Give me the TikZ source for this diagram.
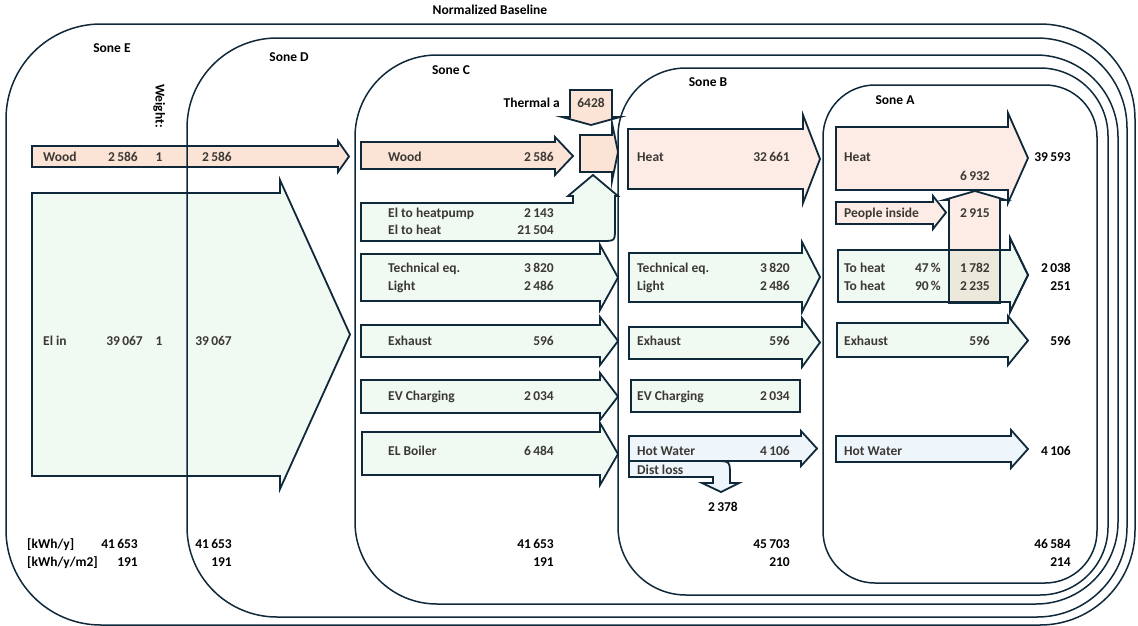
\documentclass[tikz,border=0pt]{standalone}
\usepackage{fontspec}
\setmainfont{Carlito}
\definecolor{edge}{HTML}{10293A}
\definecolor{woodfill}{HTML}{FBE3D6}
\definecolor{heatfill}{HTML}{FCECE5}
\definecolor{elfill}{HTML}{F0F9F2}
\definecolor{waterfill}{HTML}{EEF6FB}
\definecolor{mixfill}{HTML}{ECE9DC}
\definecolor{ink}{HTML}{3C3935}
% right-pointing flow arrow: style, start x, head back x, tip x, body top, body bottom, head top, head bottom
\newcommand\flowarrow[8]{%
  \path[#1] (#2,#5) -- (#3,#5) -- (#3,#7) -- (#4,{(#7+#8)/2}) -- (#3,#8) -- (#3,#6) -- (#2,#6) -- cycle;}
\begin{document}
\begin{tikzpicture}[x=1pt,y=-1pt,
  font=\fontsize{13.5}{15}\selectfont\bfseries,
  flow/.style={draw=edge, line width=1.8pt, line join=miter},
  woodarrow/.style={flow, fill=woodfill},
  heatarrow/.style={flow, fill=heatfill},
  elarrow/.style={flow, fill=elfill},
  waterarrow/.style={flow, fill=waterfill},
  zone/.style={draw=edge, line width=1.5pt},
  txt/.style={inner sep=0pt, text height=8.6pt, text depth=0pt, text=ink},
  lbl/.style={txt, anchor=west},
  num/.style={txt, anchor=east},
  cnum/.style={txt, anchor=center},
  outnum/.style={num, text=black},
  outc/.style={cnum, text=black},
  head/.style={cnum, text=black}]
\useasboundingbox (0,0) rectangle (1138,625);
\clip (0,0) rectangle (1138,625);

% ---------- Sone E ----------
\flowarrow{woodarrow}{32}{338}{349}{146}{167}{141}{172}
\flowarrow{elarrow}{32}{280}{350}{193}{476}{180}{489}

% ---------- Sone C ----------
\flowarrow{woodarrow}{361}{555}{573}{142}{169}{137}{175}
% electricity bending up into the heat merge
\path[elarrow] (361,241) -- (361,203) -- (573,203) -- (573,196) -- (568,196) -- (593,175)
  -- (618,196) -- (615,196) -- (615,228) .. controls (615,241) .. (602,241) -- cycle;
% thermal gain from above
\path[woodarrow] (570,90) -- (612,90) -- (612,117) -- (620,117) -- (591,125) -- (562,117) -- (570,117) -- cycle;
% merge box
\flowarrow{woodarrow}{580}{612}{618}{135}{172}{123}{181}
\flowarrow{elarrow}{361}{600}{618}{254}{301}{245}{310}
\flowarrow{elarrow}{361}{600}{618}{325}{357}{317}{365}
\flowarrow{elarrow}{361}{600}{618}{380}{413}{373}{420}
\flowarrow{elarrow}{362}{600}{618}{432}{475}{423}{485}

% ---------- Sone B ----------
\flowarrow{heatarrow}{628}{803}{820}{129}{189}{115}{203}
\flowarrow{elarrow}{629}{802}{820}{253}{302}{242}{312}
\flowarrow{elarrow}{629}{802}{820}{327}{359}{318}{367}
\path[elarrow] (631,380) rectangle (800,412);
\flowarrow{waterarrow}{629}{801}{817}{436}{461}{431}{466}
% distribution loss bending down
\path[waterarrow] (629,461) -- (715,461) .. controls (730,461) .. (730,476) -- (730,483) -- (739,483)
  -- (721,492) -- (702,483) -- (713,483) -- (713,477) -- (629,477) -- cycle;

% ---------- Sone A ----------
\flowarrow{heatarrow}{836}{1008}{1028}{127}{190}{113}{203}
\flowarrow{heatarrow}{836}{933}{946}{202}{224}{196}{229}
\flowarrow{elarrow}{838}{1010}{1028}{250}{302}{238}{312}
\flowarrow{elarrow}{837}{1008}{1028}{323}{357}{316}{365}
\flowarrow{waterarrow}{836}{1011}{1028}{436}{462}{430}{468}
% internal gains rising into the heat arrow
\fill[heatfill] (949,303) -- (949,200) -- (944,200) -- (975,191) -- (1006,200) -- (1000,200) -- (1000,303) -- cycle;
\fill[mixfill] (949,250) rectangle (1000,302);
\flowarrow{flow}{838}{1010}{1028}{250}{302}{238}{312}
\draw[flow] (949,303) -- (949,200) -- (944,200) -- (975,191) -- (1006,200) -- (1000,200) -- (1000,303) -- cycle;

% ---------- zone outlines ----------
\draw[zone, rounded corners=95] (6,24) rectangle (1135,625);
\draw[zone, rounded corners=90] (187,38) rectangle (1127,617);
\draw[zone, rounded corners=82] (355,55) rectangle (1118,604);
\draw[zone, rounded corners=68] (618,68) rectangle (1108,595);
\draw[zone, rounded corners=52] (823,85) rectangle (1097,583);

% ---------- headings ----------
\node[head] (title) at (490,10) {Normalized Baseline};
\node[head] (zE) at (112,48) {Sone E};
\node[head] (zD) at (289,57) {Sone D};
\node[head] (zC) at (451,70) {Sone C};
\node[head] (zB) at (708,82) {Sone B};
\node[head] (zA) at (895,100) {Sone A};
\node[head, rotate=-90] (weight) at (160,106) {Weight:};

% ---------- Sone E texts ----------
\node[lbl] (eWood) at (43,157) {Wood};
\node[num] (eWoodV) at (138,157) {2\,586};
\node[cnum] (eWoodW) at (159,157) {1};
\node[num] (dWoodV) at (232,157) {2\,586};
\node[lbl] (eEl) at (43,341) {El in};
\node[num] (eElV) at (143,341) {39\,067};
\node[cnum] (eElW) at (159,341) {1};
\node[num] (dElV) at (232,341) {39\,067};

% ---------- Sone C texts ----------
\node[num, text=black] (thermL) at (560,103) {Thermal a};
\node[cnum] (thermV) at (591,103) {6428};
\node[lbl] (cWood) at (388,157) {Wood};
\node[num] (cWoodV) at (554,157) {2\,586};
\node[lbl] (cHp) at (388,213) {El to heatpump};
\node[num] (cHpV) at (554,213) {2\,143};
\node[lbl] (cEh) at (388,230) {El to heat};
\node[num] (cEhV) at (554,230) {21\,504};
\node[lbl] (cTech) at (388,268) {Technical eq.};
\node[num] (cTechV) at (554,268) {3\,820};
\node[lbl] (cLight) at (388,286) {Light};
\node[num] (cLightV) at (554,286) {2\,486};
\node[lbl] (cExh) at (388,341) {Exhaust};
\node[num] (cExhV) at (554,341) {596};
\node[lbl] (cEv) at (388,396) {EV Charging};
\node[num] (cEvV) at (554,396) {2\,034};
\node[lbl] (cBoil) at (388,451) {EL Boiler};
\node[num] (cBoilV) at (554,451) {6\,484};

% ---------- Sone B texts ----------
\node[lbl] (bHeat) at (637,157) {Heat};
\node[num] (bHeatV) at (790,157) {32\,661};
\node[lbl] (bTech) at (637,268) {Technical eq.};
\node[num] (bTechV) at (790,268) {3\,820};
\node[lbl] (bLight) at (637,286) {Light};
\node[num] (bLightV) at (790,286) {2\,486};
\node[lbl] (bExh) at (637,341) {Exhaust};
\node[num] (bExhV) at (790,341) {596};
\node[lbl] (bEv) at (637,396) {EV Charging};
\node[num] (bEvV) at (790,396) {2\,034};
\node[lbl] (bHw) at (637,451) {Hot Water};
\node[num] (bHwV) at (790,451) {4\,106};
\node[lbl] (bLoss) at (637,470) {Dist loss};
\node[outc] (bLossV) at (723,507) {2\,378};

% ---------- Sone A texts ----------
\node[lbl] (aHeat) at (844,157) {Heat};
\node[cnum] (aGain) at (975,176) {6\,932};
\node[outnum] (aHeatV) at (1071,157) {39\,593};
\node[lbl] (aPeople) at (844,213) {People inside};
\node[cnum] (aPeopleV) at (975,213) {2\,915};
\node[lbl] (aTo1) at (844,268) {To heat};
\node[num] (aTo1P) at (941,268) {47\,\%};
\node[cnum] (aTo1V) at (975,268) {1\,782};
\node[outnum] (aTo1R) at (1071,268) {2\,038};
\node[lbl] (aTo2) at (844,286) {To heat};
\node[num] (aTo2P) at (941,286) {90\,\%};
\node[cnum] (aTo2V) at (975,286) {2\,235};
\node[outnum] (aTo2R) at (1071,286) {251};
\node[lbl] (aExh) at (844,341) {Exhaust};
\node[num] (aExhV) at (990,341) {596};
\node[outnum] (aExhR) at (1071,341) {596};
\node[lbl] (aHw) at (844,451) {Hot Water};
\node[outnum] (aHwR) at (1071,451) {4\,106};

% ---------- totals ----------
\node[lbl, text=black] (unitY) at (27,544) {[kWh/y]};
\node[lbl, text=black] (unitM) at (27,562) {[kWh/y/m2]};
\node[outnum] (eTot) at (138,544) {41\,653};
\node[outnum] (eTotM) at (138,562) {191};
\node[outnum] (dTot) at (232,544) {41\,653};
\node[outnum] (dTotM) at (232,562) {191};
\node[outnum] (cTot) at (554,544) {41\,653};
\node[outnum] (cTotM) at (554,562) {191};
\node[outnum] (bTot) at (790,544) {45\,703};
\node[outnum] (bTotM) at (790,562) {210};
\node[outnum] (aTot) at (1071,544) {46\,584};
\node[outnum] (aTotM) at (1071,562) {214};
\end{tikzpicture}
\end{document}
